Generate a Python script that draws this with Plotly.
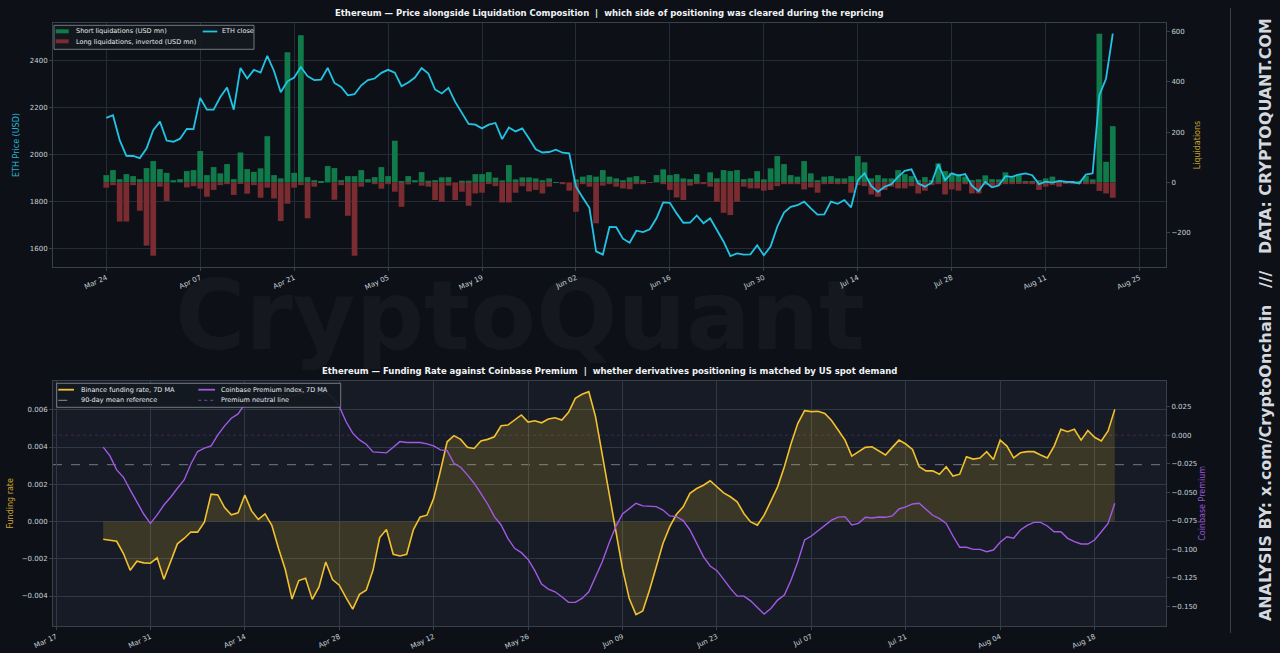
import pandas as pd
import plotly.graph_objects as go

# ---------------- DATA ----------------
START_DATE = "2025-03-24"

eth_close = [
    2157, 2168, 2062, 1995, 1994, 1985, 2026, 2104, 2141, 2060,
    2055, 2068, 2110, 2109, 2242, 2192, 2192, 2246, 2287, 2192,
    2370, 2325, 2362, 2350, 2422, 2357, 2266, 2313, 2329, 2374,
    2335, 2318, 2320, 2370, 2306, 2289, 2253, 2258, 2296, 2318,
    2325, 2349, 2362, 2350, 2292, 2308, 2329, 2370, 2346, 2278,
    2261, 2285, 2225, 2175, 2131, 2128, 2112, 2128, 2135, 2066,
    2116, 2099, 2112, 2069, 2023, 2009, 2011, 2021, 2008, 2005,
    1863, 1817, 1773, 1587, 1573, 1691, 1690, 1641, 1624, 1675,
    1669, 1681, 1728, 1796, 1794, 1749, 1709, 1710, 1740, 1707,
    1728, 1678, 1628, 1567, 1578, 1573, 1574, 1613, 1570, 1607,
    1692, 1752, 1777, 1784, 1799, 1770, 1744, 1745, 1799, 1790,
    1806, 1775, 1891, 1920, 1866, 1841, 1863, 1874, 1905, 1931,
    1937, 1877, 1863, 1880, 1959, 1891, 1920, 1910, 1917, 1867,
    1844, 1884, 1860, 1868, 1908, 1905, 1915, 1920, 1912, 1874,
    1884, 1880, 1888, 1884, 1883, 1877, 1915, 1920, 2254, 2325,
    2517,
]

short_liq = [
    29, 49, 13, 33, 25, 13, 57, 85, 53, 38,
    9, 13, 45, 49, 125, 29, 61, 36, 73, 13,
    119, 53, 42, 56, 184, 29, 16, 518, 38, 586,
    21, 9, 3, 65, 57, 9, 25, 25, 49, 13,
    21, 61, 25, 166, 3, 25, 9, 41, 7, 9,
    20, 21, 0, 7, 7, 33, 33, 41, 19, 8,
    69, 12, 20, 20, 16, 9, 16, 1, 0, 0,
    12, 23, 29, 23, 49, 23, 16, 9, 20, 25,
    9, 1, 29, 52, 29, 33, 16, 13, 33, 1,
    40, 16, 49, 45, 49, 13, 16, 45, 12, 56,
    105, 73, 29, 23, 85, 36, 9, 23, 25, 16,
    16, 25, 105, 80, 16, 29, 16, 16, 49, 33,
    25, 9, 21, 9, 76, 45, 38, 33, 23, 9,
    12, 28, 13, 12, 40, 23, 29, 3, 3, 9,
    16, 23, 7, 3, 3, 3, 25, 12, 592, 82,
    224,
]

# long liquidations as magnitudes (USD mn); drawn inverted below zero
long_liq = [
    21, 11, 156, 156, 11, 113, 252, 292, 17, 74,
    0, 0, 20, 15, 25, 57, 30, 11, 7, 50,
    4, 45, 11, 61, 21, 64, 154, 85, 21, 11,
    143, 17, 0, 0, 69, 11, 133, 292, 17, 0,
    7, 25, 7, 37, 97, 8, 0, 13, 17, 70,
    77, 13, 70, 37, 93, 44, 41, 7, 15, 80,
    80, 41, 15, 36, 30, 44, 17, 0, 7, 33,
    117, 7, 17, 163, 13, 7, 17, 24, 27, 7,
    7, 1, 0, 7, 30, 60, 70, 13, 7, 7,
    17, 77, 121, 130, 77, 17, 24, 24, 33, 30,
    15, 7, 7, 7, 28, 20, 41, 7, 4, 7,
    4, 41, 11, 15, 48, 57, 30, 17, 24, 24,
    15, 44, 33, 11, 7, 48, 28, 33, 7, 44,
    44, 11, 17, 11, 7, 7, 4, 4, 7, 30,
    17, 11, 17, 4, 7, 4, 7, 7, 34, 44,
    61,
]

# Binance funding rate, 7D MA (in units of 1e-3)
funding_milli = [
    -0.95, -0.99, -1.06, -1.72, -2.62, -2.13, -2.22, -2.24, -1.95, -3.10,
    -2.17, -1.20, -0.91, -0.56, -0.57, -0.04, 1.47, 1.43, 0.75, 0.36,
    0.47, 1.42, 0.57, 0.11, 0.41, -0.20, -1.45, -2.58, -4.16, -3.17,
    -3.05, -4.18, -3.51, -2.17, -3.12, -3.42, -4.09, -4.70, -3.91, -3.69,
    -2.62, -0.86, -0.43, -1.76, -1.85, -1.76, -0.43, 0.25, 0.34, 1.24,
    2.71, 4.28, 4.61, 4.41, 3.98, 3.92, 4.32, 4.41, 4.55, 5.14,
    5.18, 5.45, 5.72, 5.34, 5.41, 5.30, 5.50, 5.57, 5.45, 5.86,
    6.61, 6.83, 6.97, 5.63, 3.57, 1.42, -0.65, -2.53, -4.14, -5.00,
    -4.80, -3.69, -2.44, -1.18, -0.29, 0.39, 0.79, 1.51, 1.77, 1.95,
    2.19, 1.86, 1.54, 1.33, 1.06, 0.43, -0.02, -0.20, 0.34, 1.09,
    1.86, 2.94, 4.19, 5.27, 5.95, 5.90, 5.92, 5.80, 5.42, 4.90,
    4.37, 3.51, 3.75, 3.98, 4.01, 3.80, 3.57, 3.98, 4.37, 4.16,
    3.87, 2.94, 2.72, 2.72, 2.54, 2.94, 2.44, 2.54, 3.48, 3.35,
    3.41, 3.75, 3.33, 4.37, 4.05, 3.42, 3.69, 3.75, 3.75, 3.57,
    3.41, 4.05, 4.95, 4.82, 4.95, 4.37, 4.89, 4.52, 4.32, 4.86,
    6.02,
]

# Coinbase Premium Index, 7D MA
premium = [
    -0.0105, -0.0181, -0.0304, -0.0369, -0.0480, -0.0582, -0.0691, -0.0773, -0.0699, -0.0612,
    -0.0544, -0.0465, -0.0392, -0.0252, -0.0143, -0.0114, -0.0094, 0.0003, 0.0082, 0.0149,
    0.0187, 0.0275, 0.0310, 0.0331, 0.0316, 0.0334, 0.0351, 0.0345, 0.0345, 0.0363,
    0.0375, 0.0389, 0.0357, 0.0380, 0.0331, 0.0252, 0.0120, 0.0018, -0.0041, -0.0079,
    -0.0146, -0.0149, -0.0155, -0.0105, -0.0056, -0.0064, -0.0067, -0.0064, -0.0076, -0.0094,
    -0.0129, -0.0135, -0.0246, -0.0281, -0.0348, -0.0421, -0.0509, -0.0603, -0.0714, -0.0787,
    -0.0904, -0.0992, -0.1030, -0.1089, -0.1188, -0.1305, -0.1349, -0.1373, -0.1416, -0.1466,
    -0.1466, -0.1431, -0.1373, -0.1241, -0.1109, -0.0948, -0.0802, -0.0691, -0.0641, -0.0597,
    -0.0620, -0.0620, -0.0626, -0.0656, -0.0708, -0.0714, -0.0749, -0.0831, -0.0948, -0.1065,
    -0.1147, -0.1188, -0.1264, -0.1343, -0.1411, -0.1411, -0.1452, -0.1510, -0.1569, -0.1519,
    -0.1446, -0.1402, -0.1270, -0.1109, -0.0919, -0.0884, -0.0840, -0.0790, -0.0745, -0.0718,
    -0.0714, -0.0787, -0.0773, -0.0720, -0.0726, -0.0717, -0.0720, -0.0708, -0.0647, -0.0629,
    -0.0603, -0.0597, -0.0650, -0.0702, -0.0732, -0.0773, -0.0884, -0.0983, -0.0983, -0.1001,
    -0.1001, -0.1021, -0.1007, -0.0939, -0.0890, -0.0904, -0.0831, -0.0790, -0.0764, -0.0764,
    -0.0796, -0.0846, -0.0846, -0.0904, -0.0934, -0.0954, -0.0954, -0.0919, -0.0846, -0.0773,
    -0.0597,
]

FUNDING_MEAN_90D = 0.00305   # 90-day mean reference
FUNDING_ZERO = 0.0
PREMIUM_NEUTRAL = 0.0

TOP_TITLE = ("Ethereum — Price alongside Liquidation Composition  |  "
             "which side of positioning was cleared during the repricing")
BOTTOM_TITLE = ("Ethereum — Funding Rate against Coinbase Premium  |  "
                "whether derivatives positioning is matched by US spot demand")
SIDE_TEXT = "ANALYSIS BY: x.com/CryptoOnchain\u00a0\u00a0\u00a0///\u00a0\u00a0\u00a0DATA: CRYPTOQUANT.COM"

# ---------------- STYLE ----------------
W, H = 1280, 653
ML, MR, MT, MB = 53, 114, 23, 27
PW, PH = W - ML - MR, H - MT - MB

BG = "#0d1117"
BG2 = "#161b25"
GRID = "#262c35"
GRID2 = "#313845"
SPINE = "#3a4049"
TICKC = "#c9d1d9"
FONT = "DejaVu Sans"

C_SHORT = "#117a4a"
C_LONG = "#7b2c31"
C_ETH = "#22c4e6"
C_FUND = "#f2c12e"
C_PREM = "#a259e6"


def px(x):
    return (x - ML) / PW


def py(y):
    return (H - MB - y) / PH


dates = pd.date_range(START_DATE, periods=len(eth_close), freq="D")
funding = [v / 1000.0 for v in funding_milli]
long_inv = [-v for v in long_liq]
DAY = 86400000

fig = go.Figure()

fig.add_trace(go.Bar(x=dates, y=short_liq, name="Short liquidations (USD mn)",
                     marker=dict(color=C_SHORT, line=dict(width=0)), width=0.85 * DAY,
                     xaxis="x", yaxis="y", showlegend=False))
fig.add_trace(go.Bar(x=dates, y=long_inv, name="Long liquidations, inverted (USD mn)",
                     marker=dict(color=C_LONG, line=dict(width=0)), width=0.85 * DAY,
                     xaxis="x", yaxis="y", showlegend=False))
fig.add_trace(go.Scatter(x=dates, y=eth_close, name="ETH close", mode="lines",
                         line=dict(color=C_ETH, width=1.8), xaxis="x", yaxis="y2",
                         showlegend=False))

fig.add_trace(go.Scatter(x=dates, y=funding, name="Binance funding rate, 7D MA", mode="lines",
                         line=dict(color=C_FUND, width=1.6), fill="tozeroy",
                         fillcolor="rgba(242,193,46,0.17)", xaxis="x2", yaxis="y3",
                         showlegend=False))
fig.add_trace(go.Scatter(x=dates, y=premium, name="Coinbase Premium Index, 7D MA", mode="lines",
                         line=dict(color=C_PREM, width=1.4), xaxis="x2", yaxis="y4",
                         showlegend=False))

tickfont = dict(family=FONT, size=7, color=TICKC)
common_x = dict(type="date", tickformat="%b %d", dtick=14 * DAY, tickangle=-25,
                showgrid=True, showline=True, linecolor=SPINE, linewidth=1, mirror=True,
                ticks="outside", ticklen=3, tickcolor=SPINE, tickfont=tickfont,
                zeroline=False, automargin=False)

fig.update_layout(
    width=W, height=H, template="none",
    paper_bgcolor=BG, plot_bgcolor=BG,
    margin=dict(l=ML, r=MR, t=MT, b=MB, pad=0),
    barmode="overlay", showlegend=False,
    font=dict(family=FONT, color=TICKC),
    xaxis=dict(common_x, domain=[0, 1], anchor="y",
               range=["2025-03-16 01:30", "2025-08-28 22:20"],
               tick0="2025-03-24", gridcolor=GRID),
    yaxis=dict(domain=[py(267), 1], anchor="x", side="right",
               range=[-337, 635], dtick=200, showgrid=False, zeroline=False,
               showline=True, linecolor=SPINE, ticks="outside", ticklen=3,
               tickcolor=SPINE, tickfont=tickfont, automargin=False,
               title=dict(text="Liquidations", font=dict(family=FONT, size=8, color="#c9a227"),
                          standoff=4)),
    yaxis2=dict(overlaying="y", side="left", anchor="x",
                range=[1520, 2562], dtick=200, showgrid=True, gridcolor=GRID, zeroline=False,
                showline=True, linecolor=SPINE, ticks="outside", ticklen=3,
                tickcolor=SPINE, tickfont=tickfont, automargin=False,
                title=dict(text="ETH Price (USD)", font=dict(family=FONT, size=8, color="#24b3d6"),
                           standoff=8)),
    xaxis2=dict(common_x, domain=[0, 1], anchor="y3",
                range=["2025-03-16 13:20", "2025-08-28 14:10"],
                tick0="2025-03-17", gridcolor=GRID2),
    yaxis3=dict(domain=[0, py(380.7)], anchor="x2", side="left",
                range=[-0.00561, 0.00756], dtick=0.002, tickformat=".3f",
                showgrid=True, gridcolor=GRID2, zeroline=False,
                showline=True, linecolor=SPINE, ticks="outside", ticklen=3,
                tickcolor=SPINE, tickfont=tickfont, automargin=False,
                title=dict(text="Funding rate", font=dict(family=FONT, size=8, color="#d4a72c"),
                           standoff=6)),
    yaxis4=dict(overlaying="y3", side="right", anchor="x2",
                range=[-0.1673, 0.0478], dtick=0.025, tickformat=".3f",
                showgrid=False, zeroline=False,
                showline=True, linecolor=SPINE, ticks="outside", ticklen=3,
                tickcolor=SPINE, tickfont=tickfont, automargin=False,
                title=dict(text="Coinbase Premium", font=dict(family=FONT, size=8, color="#9a55d8"),
                           standoff=3)),
)

shapes = []
# lighter background of the lower panel
shapes.append(dict(type="rect", xref="x2 domain", yref="y3 domain", x0=0, x1=1, y0=0, y1=1,
                   fillcolor=BG2, line=dict(width=0), layer="below"))
# reference lines
shapes.append(dict(type="line", xref="x2 domain", yref="y3", x0=0, x1=1,
                   y0=FUNDING_ZERO, y1=FUNDING_ZERO, line=dict(color="#d8cc9c", width=1), layer="below"))
shapes.append(dict(type="line", xref="x2 domain", yref="y3", x0=0, x1=1,
                   y0=FUNDING_MEAN_90D, y1=FUNDING_MEAN_90D,
                   line=dict(color="#7d848d", width=0.9, dash="dash"), layer="below"))
shapes.append(dict(type="line", xref="x2 domain", yref="y4", x0=0, x1=1,
                   y0=PREMIUM_NEUTRAL, y1=PREMIUM_NEUTRAL,
                   line=dict(color="rgba(162,89,230,0.35)", width=0.8, dash="dot"), layer="below"))
# separator for side credit
shapes.append(dict(type="line", xref="paper", yref="paper", x0=px(1230.5), x1=px(1230.5),
                   y0=py(8), y1=py(633), line=dict(color="#3a4049", width=1)))

annotations = []
# watermark
annotations.append(dict(text="CryptoQuant", xref="paper", yref="paper", x=px(520), y=py(316),
                        showarrow=False, xanchor="center", yanchor="middle",
                        font=dict(family=FONT, size=96, color="rgba(255,255,255,0.035)", weight="bold")))
# titles
annotations.append(dict(text=TOP_TITLE, xref="paper", yref="paper", x=px(609.5), y=py(13),
                        showarrow=False, xanchor="center", yanchor="middle",
                        font=dict(family=FONT, size=8.5, color="#f0f3f6", weight="bold")))
annotations.append(dict(text=BOTTOM_TITLE, xref="paper", yref="paper", x=px(609.5), y=py(371),
                        showarrow=False, xanchor="center", yanchor="middle",
                        font=dict(family=FONT, size=8.5, color="#f0f3f6", weight="bold")))
# side credit
annotations.append(dict(text=SIDE_TEXT, xref="paper", yref="paper", x=px(1265), y=py(320),
                        showarrow=False, textangle=-90, xanchor="center", yanchor="middle",
                        font=dict(family=FONT, size=15.9, color="#d4d9df", weight="bold")))

# ---- manual legends (matplotlib style, 2 columns) ----
LEG_FONT = dict(family=FONT, size=6.5, color="#e6e9ec")


def legend_box(x0, x1, y0, y1):
    shapes.append(dict(type="rect", xref="paper", yref="paper", x0=px(x0), x1=px(x1),
                       y0=py(y1), y1=py(y0), fillcolor="rgba(20,25,32,0.92)",
                       line=dict(color="#8d939b", width=0.8)))


def legend_patch(x0, x1, yc, color):
    shapes.append(dict(type="rect", xref="paper", yref="paper", x0=px(x0), x1=px(x1),
                       y0=py(yc + 2), y1=py(yc - 2), fillcolor=color, line=dict(width=0)))


def legend_line(x0, x1, yc, color, width=1.8, dash="solid"):
    shapes.append(dict(type="line", xref="paper", yref="paper", x0=px(x0), x1=px(x1),
                       y0=py(yc), y1=py(yc), line=dict(color=color, width=width, dash=dash)))


def legend_text(x, yc, text):
    annotations.append(dict(text=text, xref="paper", yref="paper", x=px(x), y=py(yc),
                            showarrow=False, xanchor="left", yanchor="middle", font=LEG_FONT))


legend_box(54, 254, 25.3, 49.3)
legend_patch(55.7, 68.7, 31.3, C_SHORT)
legend_text(73.5, 31.5, "Short liquidations (USD mn)")
legend_patch(55.7, 68.7, 41.3, C_LONG)
legend_text(73.5, 41.5, "Long liquidations, inverted (USD mn)")
legend_line(202.7, 217.3, 31.5, C_ETH)
legend_text(220.5, 31.5, "ETH close")

legend_box(56.7, 340.7, 383.3, 407.3)
legend_line(58.3, 74, 389.7, C_FUND)
legend_text(78.5, 389.7, "Binance funding rate, 7D MA")
legend_line(198.3, 215, 389.7, C_PREM)
legend_text(218.5, 389.7, "Coinbase Premium Index, 7D MA")
legend_line(58.3, 74, 400.3, "#8a9099", width=1, dash="dash")
legend_text(78.5, 400.3, "90-day mean reference")
legend_line(198.3, 215, 400.3, "rgba(162,89,230,0.7)", width=1, dash="dot")
legend_text(218.5, 400.3, "Premium neutral line")

fig.update_layout(shapes=shapes, annotations=annotations)

fig.write_html(
    "out.html",
    config={"displayModeBar": False},
    post_script=("document.body.style.margin='0';"
                 "document.body.style.background='" + BG + "';"
                 "document.body.style.overflow='hidden';"),
)
